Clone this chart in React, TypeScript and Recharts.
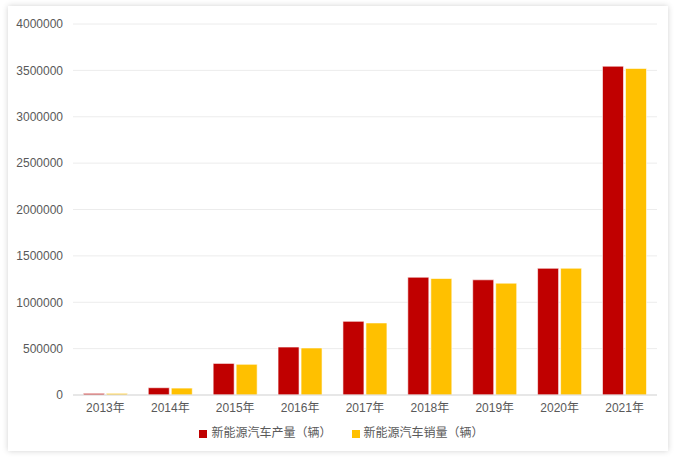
import React from 'react';
import { BarChart, Bar, XAxis, YAxis, CartesianGrid, Legend } from 'recharts';

const years = ['2013年', '2014年', '2015年', '2016年', '2017年', '2018年', '2019年', '2020年', '2021年'];
const production = [17533, 78499, 340471, 517000, 794000, 1270000, 1242000, 1366000, 3545000];
const sales = [17642, 74763, 331092, 507000, 777000, 1256000, 1206000, 1367000, 3521000];
const yTicks = [0, 500000, 1000000, 1500000, 2000000, 2500000, 3000000, 3500000, 4000000];

const data = years.map((y, i) => ({ year: y, production: production[i], sales: sales[i] }));

const FONT = '"Liberation Sans", Arial, "Noto Sans CJK SC", sans-serif';

export default function App() {
  return (
    <div style={{ position: 'absolute', left: 0, top: 0, width: 676, height: 459, background: '#fff', overflow: 'hidden' }}>
      <div
        style={{
          position: 'absolute',
          left: 8,
          top: 6,
          width: 660,
          height: 445,
          background: '#fff',
          boxShadow: '0 0 6px rgba(0,0,0,0.18)',
          fontFamily: FONT,
        }}
      >
        <BarChart
          width={660}
          height={445}
          data={data}
          margin={{ top: 18, right: 11, left: 0, bottom: 0 }}
          barGap={2}
          barCategoryGap="16%"
        >
          <CartesianGrid vertical={false} stroke="#ececec" strokeWidth={1} />
          <XAxis
            dataKey="year"
            axisLine={{ stroke: '#d9d9d9' }}
            tickLine={false}
            tick={{ fill: '#595959', fontSize: 12, fontFamily: FONT }}
            height={28}
            interval={0}
          />
          <YAxis
            width={65}
            domain={[0, 4000000]}
            ticks={yTicks}
            axisLine={false}
            tickLine={false}
            tickMargin={4}
            tick={{ fill: '#595959', fontSize: 12, fontFamily: FONT }}
          />
          <Legend
            verticalAlign="bottom"
            align="center"
            iconType="square"
            iconSize={8}
            height={28}
            wrapperStyle={{ fontSize: 12, fontFamily: FONT, color: '#595959', paddingLeft: 14 }}
            formatter={(value, entry, index) => (
              <span style={{ color: '#595959', paddingRight: index === 0 ? 10 : 0 }}>{value}</span>
            )}
          />
          <Bar dataKey="production" name="新能源汽车产量（辆）" fill="#C00000" stroke="#ffffff" strokeWidth={0.6} isAnimationActive={false} />
          <Bar dataKey="sales" name="新能源汽车销量（辆）" fill="#FFC000" stroke="#ffffff" strokeWidth={0.6} isAnimationActive={false} />
        </BarChart>
      </div>
    </div>
  );
}
